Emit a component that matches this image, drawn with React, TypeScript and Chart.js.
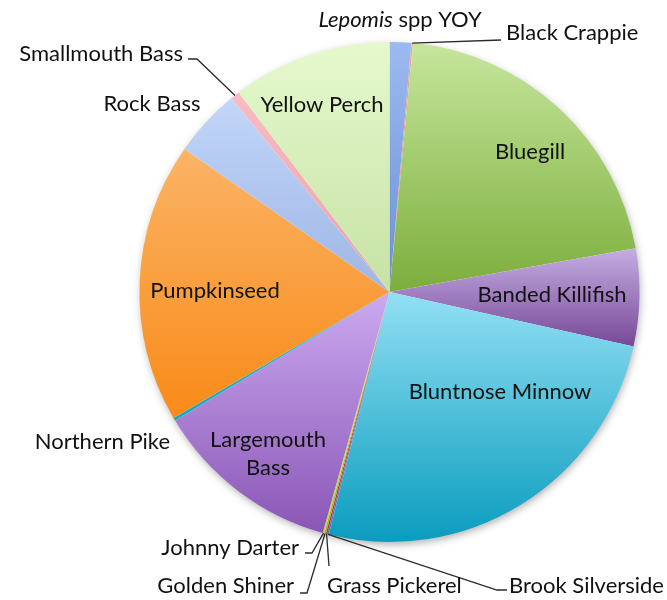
import { useEffect, useRef } from "react";
import { Chart, registerables } from "chart.js";

Chart.register(...registerables);

// ---- data (clockwise from 12 o'clock) ----
const species = [
  "Lepomis spp YOY",
  "Black Crappie",
  "Bluegill",
  "Banded Killifish",
  "Bluntnose Minnow",
  "Brook Silverside",
  "Grass Pickerel",
  "Golden Shiner",
  "Johnny Darter",
  "Largemouth Bass",
  "Northern Pike",
  "Pumpkinseed",
  "Rock Bass",
  "Smallmouth Bass",
  "Yellow Perch",
];
const percentOfCatch = [1.4, 0.1, 20.7, 6.3, 25.4, 0.1, 0.1, 0.1, 0.1, 12.1, 0.2, 18.1, 4.4, 0.6, 10.3];

const topColors = [
  "#9cbaf0", "#f2a4a4", "#c6e69c", "#c4aee2", "#92e0f4", "#6c98e4", "#e05050", "#a8d448", "#d8e870",
  "#cbaaf0", "#2cc4dc", "#fbb466", "#c2d6f8", "#f8bcc4", "#e6f9ce",
];
const bottomColors = [
  "#6a90d6", "#e08080", "#7cae3c", "#774898", "#0a9cbe", "#4a78c8", "#c83030", "#88b830", "#c0d050",
  "#8a56b6", "#10a8c0", "#f98a18", "#9eb6e6", "#eea0a8", "#c6e2a4",
];

const FONT = "Lato, 'Open Sans', sans-serif";
const FONT_SIZE = 22;

type LabelSpec = {
  index: number;
  text: string[];
  x: number;
  y: number;
  align: CanvasTextAlign;
  leader?: number[][];
};

const labelSpecs: LabelSpec[] = [
  { index: 0, text: ["Lepomis spp YOY"], x: 400, y: 20, align: "center" },
  { index: 1, text: ["Black Crappie"], x: 506, y: 33, align: "left", leader: [[501, 40]] },
  { index: 2, text: ["Bluegill"], x: 530, y: 152, align: "center" },
  { index: 3, text: ["Banded Killifish"], x: 552, y: 295, align: "center" },
  { index: 4, text: ["Bluntnose Minnow"], x: 500, y: 392, align: "center" },
  { index: 5, text: ["Brook Silverside"], x: 509, y: 586, align: "left", leader: [[497, 590], [507, 590]] },
  { index: 6, text: ["Grass Pickerel"], x: 327, y: 586, align: "left", leader: [[329, 566]] },
  { index: 7, text: ["Golden Shiner"], x: 294, y: 586, align: "right", leader: [[307, 593], [300, 593]] },
  { index: 8, text: ["Johnny Darter"], x: 299, y: 548, align: "right", leader: [[312, 553], [305, 553]] },
  { index: 9, text: ["Largemouth", "Bass"], x: 268, y: 440, align: "center" },
  { index: 10, text: ["Northern Pike"], x: 170, y: 442, align: "right" },
  { index: 11, text: ["Pumpkinseed"], x: 215, y: 291, align: "center" },
  { index: 12, text: ["Rock Bass"], x: 152, y: 104, align: "center" },
  { index: 13, text: ["Smallmouth Bass"], x: 183, y: 54, align: "right", leader: [[197, 59], [188, 59]] },
  { index: 14, text: ["Yellow Perch"], x: 322, y: 105, align: "center" },
];

function sliceGradient(c: any) {
  const chart = c.chart;
  const i = c.dataIndex;
  const area = chart.chartArea;
  if (!area || i === undefined) return topColors[i ?? 0];
  const cx = (area.left + area.right) / 2;
  const cy = (area.top + area.bottom) / 2;
  const r = Math.min(area.right - area.left, area.bottom - area.top) / 2;
  const vals = chart.data.datasets[0].data as number[];
  const total = vals.reduce((a, b) => a + b, 0);
  let cum = 0;
  for (let k = 0; k < i; k++) cum += vals[k];
  const a0 = -Math.PI / 2 + (2 * Math.PI * cum) / total;
  const a1 = a0 + (2 * Math.PI * vals[i]) / total;
  const ys = [cy, cy + r * Math.sin(a0), cy + r * Math.sin(a1)];
  const inRange = (a: number) => {
    for (let t = a - 4 * Math.PI; t <= a + 4 * Math.PI; t += 2 * Math.PI) {
      if (t >= a0 && t <= a1) return true;
    }
    return false;
  };
  if (inRange(Math.PI / 2)) ys.push(cy + r);
  if (inRange(-Math.PI / 2)) ys.push(cy - r);
  const y0 = Math.min(...ys);
  let y1 = Math.max(...ys);
  if (y1 - y0 < 2) y1 = y0 + 2;
  const g = chart.ctx.createLinearGradient(0, y0, 0, y1);
  g.addColorStop(0, topColors[i]);
  g.addColorStop(1, bottomColors[i]);
  return g;
}

const shadowPlugin = {
  id: "pieShadow",
  beforeDatasetsDraw(chart: any) {
    const meta = chart.getDatasetMeta(0);
    const arc = meta.data[0];
    if (!arc) return;
    const p = arc.getProps(["x", "y", "outerRadius"], true);
    const ctx = chart.ctx;
    ctx.save();
    ctx.shadowColor = "rgba(0,0,0,0.35)";
    ctx.shadowBlur = 8;
    ctx.shadowOffsetX = 1;
    ctx.shadowOffsetY = 3;
    ctx.fillStyle = "#ffffff";
    ctx.beginPath();
    ctx.arc(p.x, p.y, p.outerRadius - 1, 0, Math.PI * 2);
    ctx.fill();
    ctx.restore();
  },
};

const labelPlugin = {
  id: "fishLabels",
  afterDatasetsDraw(chart: any) {
    const ctx = chart.ctx as CanvasRenderingContext2D;
    const meta = chart.getDatasetMeta(0);
    ctx.save();
    ctx.textBaseline = "middle";
    ctx.fillStyle = "#111111";
    ctx.strokeStyle = "#2a2a2a";
    ctx.lineWidth = 1.3;
    for (const l of labelSpecs) {
      const arc = meta.data[l.index];
      if (l.leader && arc) {
        const p = arc.getProps(["x", "y", "startAngle", "endAngle", "outerRadius"], true);
        const mid = (p.startAngle + p.endAngle) / 2;
        const sx = p.x + Math.cos(mid) * p.outerRadius;
        const sy = p.y + Math.sin(mid) * p.outerRadius;
        ctx.beginPath();
        ctx.moveTo(sx, sy);
        for (const [px, py] of l.leader) ctx.lineTo(px, py);
        ctx.stroke();
      }
      if (l.index === 0) {
        // italic genus name
        const italic = `italic ${FONT_SIZE}px ${FONT}`;
        const normal = `${FONT_SIZE}px ${FONT}`;
        ctx.font = italic;
        const w1 = ctx.measureText("Lepomis").width;
        ctx.font = normal;
        const w2 = ctx.measureText(" spp YOY").width;
        const start = l.x - (w1 + w2) / 2;
        ctx.textAlign = "left";
        ctx.font = italic;
        ctx.fillText("Lepomis", start, l.y);
        ctx.font = normal;
        ctx.fillText(" spp YOY", start + w1, l.y);
        continue;
      }
      ctx.font = `${FONT_SIZE}px ${FONT}`;
      ctx.textAlign = l.align;
      l.text.forEach((t, k) => ctx.fillText(t, l.x, l.y + k * 28));
    }
    ctx.restore();
  },
};

export default function App() {
  const ref = useRef<HTMLCanvasElement | null>(null);
  useEffect(() => {
    if (!ref.current) return;
    const chart = new Chart(ref.current, {
      type: "pie",
      data: {
        labels: species,
        datasets: [
          {
            data: percentOfCatch,
            backgroundColor: sliceGradient as any,
            borderWidth: 0,
          },
        ],
      },
      options: {
        responsive: false,
        animation: false,
        layout: { padding: { left: 139.5, right: 27.5, top: 42, bottom: 58 } },
        plugins: {
          legend: { display: false },
          tooltip: { enabled: false },
        },
      },
      plugins: [shadowPlugin, labelPlugin],
    });
    return () => chart.destroy();
  }, []);
  return (
    <div style={{ position: "absolute", left: 0, top: 0, width: 667, height: 600, background: "#fff" }}>
      <canvas ref={ref} width={667} height={600} style={{ display: "block" }} />
    </div>
  );
}
